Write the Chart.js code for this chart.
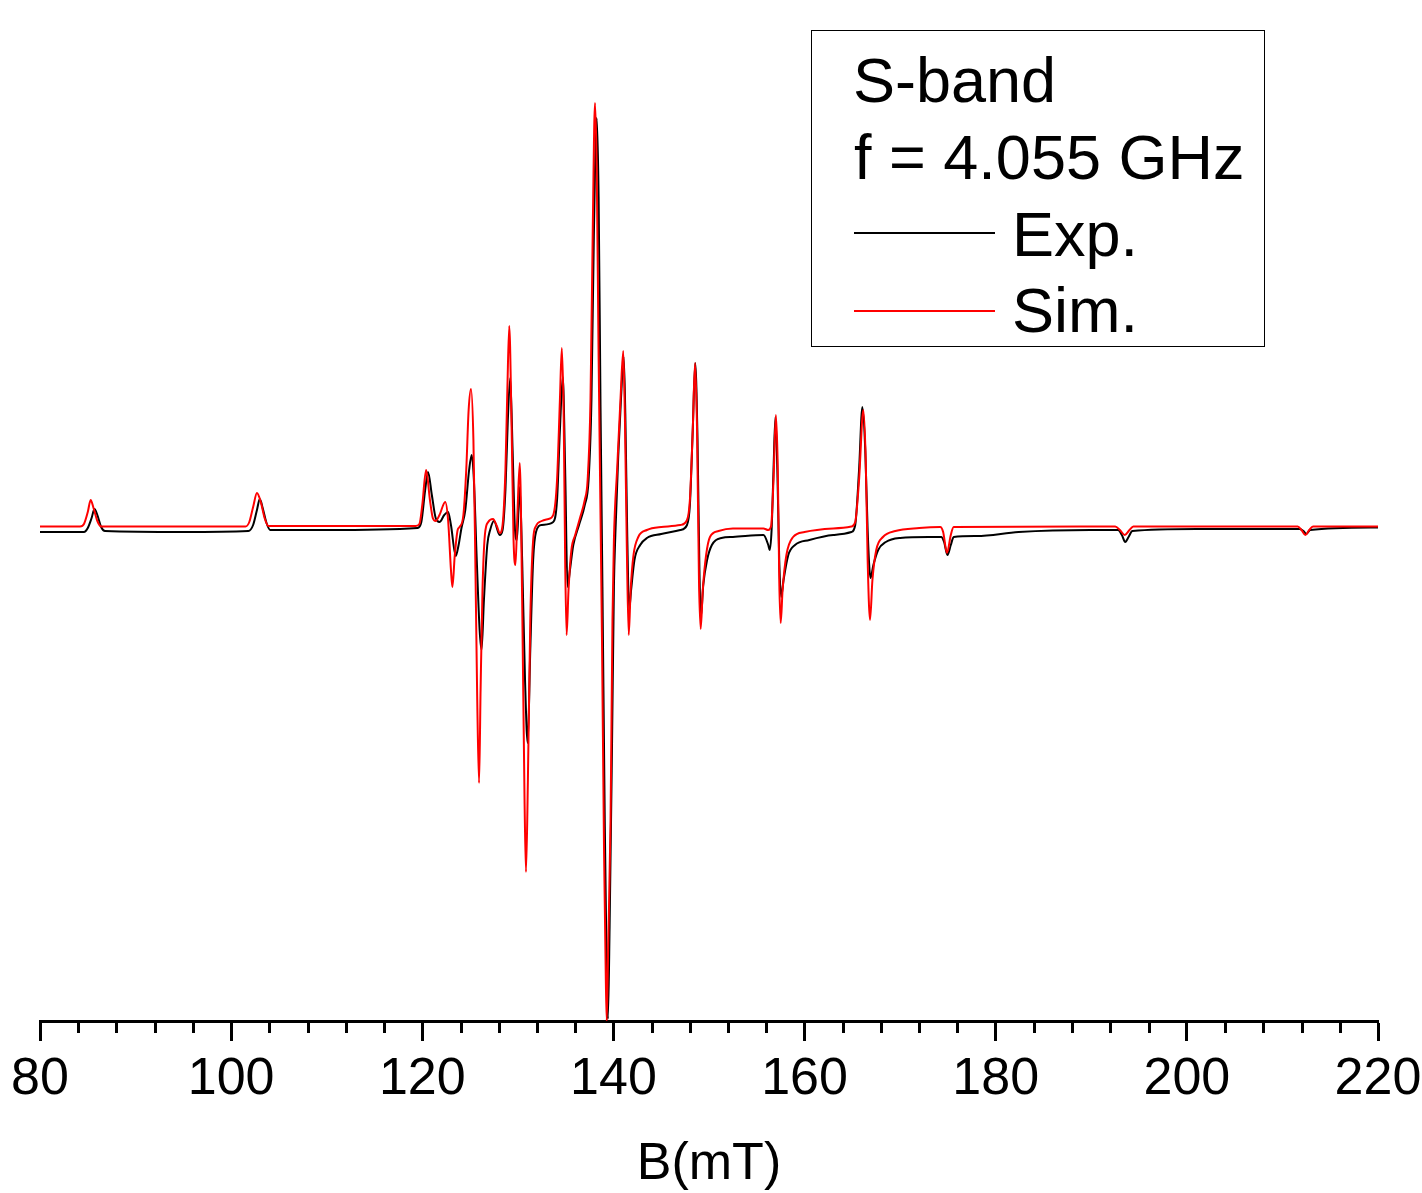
<!DOCTYPE html>
<html>
<head>
<meta charset="utf-8">
<script src="https://cdn.jsdelivr.net/npm/chart.js@4/dist/chart.umd.min.js"></script>
<style>
html,body{margin:0;padding:0;background:#fff;}
#wrap{position:relative;width:1422px;height:1193px;overflow:hidden;}
#legendBox{position:absolute;left:811px;top:30px;width:454px;height:317px;border:1.6px solid #000;box-sizing:border-box;}
.lt{position:absolute;font-family:"Liberation Sans",Arial,sans-serif;font-size:63px;line-height:62px;white-space:nowrap;color:#000;}
.ln{position:absolute;height:0;border-top-width:2px;border-top-style:solid;}
</style>
</head>
<body>
<div id="wrap">
<canvas id="c" width="1422" height="1193"></canvas>
<div id="legendBox"></div>
<div class="lt" style="left:853px;top:49px;">S-band</div>
<div class="lt" style="left:854px;top:126px;">f = 4.055 GHz</div>
<div class="ln" style="left:854px;top:232px;width:141px;border-top-color:#000000;"></div>
<div class="lt" style="left:1012px;top:202.5px;">Exp.</div>
<div class="ln" style="left:854px;top:310px;width:141px;border-top-color:#ff0000;"></div>
<div class="lt" style="left:1012px;top:279px;">Sim.</div>
</div>
<script>
// ---- data (B in mT, signal in arbitrary units) ----
const fieldExp = [80,84.6,85.0,85.4,85.7,86.0,86.4,86.8,95,101.8,102.3,102.7,103.0,103.3,103.7,104.1,110,119.5,119.9,120.3,120.6,121.0,121.4,121.8,122.3,122.7,123.0,123.5,123.8,124.1,124.5,124.9,125.17,125.4,125.7,126.0,126.2,126.45,126.8,127.1,127.5,128.1,128.4,128.7,128.95,129.2,129.45,129.7,129.9,130.2,130.45,130.75,131.03,131.3,131.6,131.9,132.5,133.7,134.1,134.4,134.7,134.95,135.2,135.45,135.8,136.4,137.0,137.4,137.7,137.95,138.25,138.45,138.65,138.85,139.1,139.3,139.42,139.6,139.85,140.05,140.2,140.5,140.8,141.08,141.25,141.45,141.65,141.85,142.2,142.8,143.5,145,147,147.7,148.0,148.3,148.56,148.8,149.0,149.15,149.4,149.8,150.3,151.3,152.5,155.7,156.2,156.35,156.55,156.75,156.95,157.15,157.35,157.55,157.8,158.3,159.0,160.5,163.0,164.9,165.3,165.7,166.05,166.35,166.6,166.9,167.2,167.7,168.5,170,173,174.3,174.6,174.95,175.3,175.6,178,182.4,189.9,192.8,193.2,193.55,193.9,194.3,201,211.8,212.2,212.5,212.9,220];
const signalExp = [-5,-5,-1,9,18,12,0,-4,-5,-4,2,17,28,19,4,-3,-3,-1,5,37,55,32,9,5,12,15,2,-29,-18,-1,17,57,72,47,-33,-103,-123,-73,-18,-3,6,-8,-3,37,107,149,77,-3,-13,40,-33,-153,-216,-123,-33,-5,2,5,27,97,150,57,-60,-43,-18,2,22,47,127,290,409,330,120,-60,-300,-450,-492,-400,-220,-60,-8,70,130,170,110,-10,-83,-63,-33,-18,-11,-7,-3,2,22,97,164,87,-43,-90,-58,-33,-18,-11,-10,-8,-18,-23,-3,57,110,57,-33,-70,-53,-28,-18,-13,-8,-5,2,57,120,77,-3,-51,-38,-23,-15,-11,-10,-10,-15,-28,-18,-10,-9,-5,-3,-3,-8,-15,-10,-4,-2,-2,-4,-7,-3,-0.5];

const fieldSim = [80,84.2,84.6,85.0,85.3,85.6,86.0,86.4,101.5,101.9,102.3,102.7,103.1,103.5,103.9,119.3,119.7,120.0,120.4,120.8,121.1,121.4,121.8,122.4,122.7,123.0,123.15,123.4,123.7,123.9,124.3,124.6,124.85,125.1,125.35,125.55,125.75,125.94,126.1,126.3,126.55,126.9,127.4,127.8,128.1,128.4,128.7,128.9,129.1,129.35,129.55,129.75,129.95,130.2,130.45,130.7,130.85,131.05,131.3,131.6,131.9,132.5,133.2,133.7,134.1,134.4,134.6,134.8,134.95,135.1,135.3,135.6,136.0,136.5,137.0,137.3,137.6,137.85,138.07,138.25,138.45,138.68,138.8,139.02,139.2,139.3,139.45,139.7,139.9,140.05,140.4,140.75,141.03,141.2,141.4,141.6,141.8,142.1,142.6,143.5,145.0,147.0,147.7,148.0,148.3,148.54,148.75,148.95,149.13,149.35,149.7,150.1,151.0,152.5,155.7,156.2,156.5,156.75,157.0,157.2,157.35,157.5,157.7,158.1,158.8,160.0,163.0,164.9,165.3,165.7,166.15,166.4,166.6,166.85,167.1,167.5,168.2,169.5,172.0,174.2,174.5,174.9,175.3,175.6,192.5,193.0,193.5,194.0,194.4,211.6,212.0,212.4,212.8,213.2,220];
const signalSim = [0.5,0.5,3,15,27,19,6,0.5,0.5,5,20,34,25,9,1,1,3,22,57,27,9,6,12,25,7,-43,-60,-28,-3,0,12,57,117,138,87,-33,-173,-256,-163,-63,-8,5,8,1,-6,2,57,137,201,97,-13,-38,12,64,-73,-273,-345,-253,-93,-13,1,6,8,12,47,127,179,107,-33,-108,-63,-23,-8,9,27,47,127,307,424,360,170,-13,-110,-326,-450,-494,-420,-293,-93,-13,60,130,176,110,-20,-108,-63,-28,-10,-3,0,2,7,27,97,164,97,-53,-102,-63,-28,-10,-4,-1.5,-1.5,-3,1,47,112,57,-53,-96,-63,-28,-10,-5,-1.5,0.5,5,47,117,67,-33,-93,-53,-23,-10,-4,-1,0,-5,-26,-8,0,0.5,-3,-8,-3,0.5,0.5,-3,-8,-3,0.5,0.5];

const majorTickValues = [80,100,120,140,160,180,200,220];
const minorTickValues = [84,88,92,96,104,108,112,116,124,128,132,136,144,148,152,156,164,168,172,176,184,188,192,196,204,208,212,216];
const xTitle = 'B(mT)';

const toPoints = (xs, ys) => xs.map((x, i) => ({x: x, y: ys[i]}));

const minorTickPlugin = {
  id: 'minorTicks',
  afterDraw(chart) {
    const s = chart.scales.x;
    const c = chart.ctx;
    c.save();
    c.strokeStyle = '#000';
    c.lineWidth = 3;
    c.beginPath();
    minorTickValues.forEach(v => {
      const px = Math.round(s.getPixelForValue(v)) + 0.5;
      c.moveTo(px, s.top);
      c.lineTo(px, s.top + 12);
    });
    c.stroke();
    c.restore();
  }
};

new Chart(document.getElementById('c').getContext('2d'), {
  type: 'line',
  data: {
    datasets: [
      {label: 'Exp.', data: toPoints(fieldExp, signalExp), borderColor: '#000000', borderWidth: 2, pointRadius: 0, fill: false, order: 1, cubicInterpolationMode: 'monotone'},
      {label: 'Sim.', data: toPoints(fieldSim, signalSim), borderColor: '#ff0000', borderWidth: 2, pointRadius: 0, fill: false, order: 0, cubicInterpolationMode: 'monotone'}
    ]
  },
  options: {
    responsive: false,
    animation: false,
    layout: {padding: {left: 40, right: 44, top: 20, bottom: 0}},
    plugins: {legend: {display: false}, tooltip: {enabled: false}},
    scales: {
      x: {
        type: 'linear', position: 'bottom', min: 80, max: 220,
        afterBuildTicks: s => { s.ticks = majorTickValues.map(v => ({value: v})); },
        ticks: {font: {family: 'Liberation Sans', size: 52}, color: '#000', padding: 7, maxRotation: 0, autoSkip: false},
        grid: {drawOnChartArea: false, tickLength: 20, tickWidth: 3, color: '#000'},
        border: {color: '#000', width: 3},
        title: {display: true, text: xTitle, color: '#000', font: {family: 'Liberation Sans', size: 52, lineHeight: 1.1}, padding: {top: 25, bottom: 0}},
        afterFit: s => { s.height = 172; s.paddingLeft = 0; s.paddingRight = 0; }
      },
      y: {display: false, min: -494, max: 507}
    }
  },
  plugins: [minorTickPlugin]
});
</script>
</body>
</html>
